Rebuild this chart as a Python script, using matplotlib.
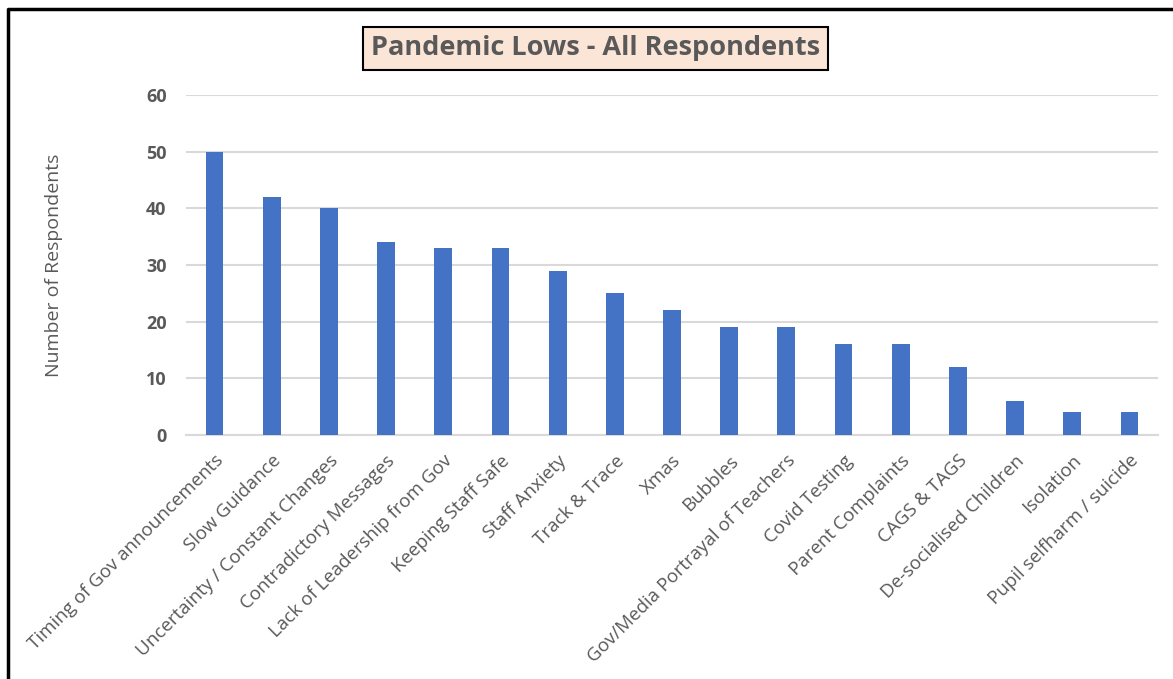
import matplotlib.pyplot as plt
from matplotlib.lines import Line2D

# Categorías y número de respuestas
categorias = [
    "Timing of Gov announcements", "Slow Guidance", "Uncertainty / Constant Changes",
    "Contradictory Messages", "Lack of Leadership from Gov", "Keeping Staff Safe",
    "Staff Anxiety", "Track & Trace", "Xmas", "Bubbles",
    "Gov/Media Portrayal of Teachers", "Covid Testing", "Parent Complaints",
    "CAGS & TAGS", "De-socialised Children", "Isolation", "Pupil selfharm / suicide",
]
respuestas = [50, 42, 40, 34, 33, 33, 29, 25, 22, 19, 19, 16, 16, 12, 6, 4, 4]
ticks_y = [0, 10, 20, 30, 40, 50, 60]

gris = "#595959"
plt.rcParams["font.family"] = ["Open Sans", "DejaVu Sans"]

fig = plt.figure(figsize=(11.73, 6.79), dpi=100)
ax = fig.add_axes([0.1586, 0.3594, 0.8286, 0.5007])

x = range(len(categorias))
ax.bar(x, respuestas, width=0.31, color="#4472C4", zorder=3)

ax.set_xlim(-0.5, len(categorias) - 0.5)
ax.set_ylim(0, 60)
ax.set_yticks(ticks_y)
ax.set_yticklabels([str(t) for t in ticks_y], fontsize=13, fontweight="bold", color=gris)
ax.set_xticks(list(x))
ax.set_xticklabels(categorias, rotation=45, ha="right", rotation_mode="anchor",
                   fontsize=13.5, color=gris)
ax.tick_params(axis="both", length=0)
ax.tick_params(axis="y", pad=14)
ax.tick_params(axis="x", pad=12)

ax.grid(axis="y", color="#D9D9D9", linewidth=1.5, zorder=0)
for lado in ["top", "right", "left"]:
    ax.spines[lado].set_visible(False)
ax.spines["bottom"].set_color("#D9D9D9")
ax.spines["bottom"].set_linewidth(1.5)

ax.set_ylabel("Number of Respondents", fontsize=14, color=gris, labelpad=60)

# Título en recuadro
fig.text(0.5077, 0.9286, "Pandemic Lows - All Respondents", ha="center", va="center",
         fontsize=19.5, fontweight="bold", color=gris,
         bbox=dict(boxstyle="square,pad=0.3", facecolor="#FBE5D6", edgecolor="black", linewidth=1.5))

# Marco exterior (izquierda y arriba)
fig.add_artist(Line2D([0.0068, 0.0068, 1.0], [0.0, 0.9867, 0.9867],
                      transform=fig.transFigure, color="black", linewidth=2.5))

fig.savefig("out.png", dpi=100)
